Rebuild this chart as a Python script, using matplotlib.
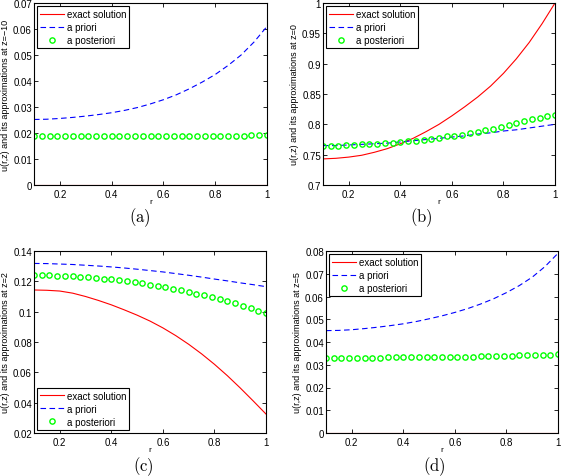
import matplotlib
matplotlib.use("Agg")
import matplotlib.pyplot as plt
from matplotlib.ticker import FormatStrFormatter

plt.rcParams['font.family'] = ['Liberation Sans', 'DejaVu Sans']
plt.rcParams['mathtext.fontset'] = 'cm'
plt.rcParams['lines.scale_dashes'] = False

# r grid for the continuous curves (step 0.05) and for the markers (step 0.03)
r_line = [0.10, 0.15, 0.20, 0.25, 0.30, 0.35, 0.40, 0.45, 0.50, 0.55,
          0.60, 0.65, 0.70, 0.75, 0.80, 0.85, 0.90, 0.95, 1.00]
r_mark = [0.10, 0.13, 0.16, 0.19, 0.22, 0.25, 0.28, 0.31, 0.34, 0.37,
          0.40, 0.43, 0.46, 0.49, 0.52, 0.55, 0.58, 0.61, 0.64, 0.67,
          0.70, 0.73, 0.76, 0.79, 0.82, 0.85, 0.88, 0.91, 0.94, 0.97, 1.00]

# (a) z = -10
exact_a = [0.0] * 19
priori_a = [0.0252, 0.0253, 0.0256, 0.0260, 0.0265, 0.0271, 0.0278, 0.0287,
            0.0298, 0.0312, 0.0328, 0.0347, 0.0370, 0.0396, 0.0425, 0.0460,
            0.0500, 0.0550, 0.0610]
post_a = [0.0187, 0.0187, 0.0187, 0.0187, 0.0187, 0.0187, 0.0187, 0.0187,
          0.0188, 0.0188, 0.0188, 0.0188, 0.0188, 0.0188, 0.0188, 0.0188,
          0.0188, 0.0189, 0.0189, 0.0189, 0.0189, 0.0189, 0.0189, 0.0190,
          0.0190, 0.0190, 0.0190, 0.0190, 0.0191, 0.0191, 0.0191]

# (b) z = 0
exact_b = [0.743, 0.744, 0.746, 0.749, 0.754, 0.760, 0.768, 0.777, 0.788,
           0.800, 0.814, 0.829, 0.845, 0.863, 0.884, 0.908, 0.935, 0.966,
           1.000]
priori_b = [0.765, 0.765, 0.766, 0.767, 0.768, 0.769, 0.771, 0.773, 0.775,
            0.777, 0.779, 0.781, 0.784, 0.786, 0.789, 0.791, 0.794, 0.797,
            0.800]
post_b = [0.765, 0.765, 0.765, 0.766, 0.766, 0.767, 0.767, 0.768, 0.769,
          0.770, 0.771, 0.772, 0.773, 0.775, 0.776, 0.778, 0.780, 0.781,
          0.783, 0.786, 0.788, 0.790, 0.793, 0.796, 0.799, 0.802, 0.805,
          0.808, 0.811, 0.814, 0.816]

# (c) z = 2
exact_c = [0.1143, 0.1141, 0.1136, 0.1122, 0.1100, 0.1074, 0.1045, 0.1012,
           0.0977, 0.0938, 0.0893, 0.0842, 0.0785, 0.0722, 0.0653, 0.0578,
           0.0497, 0.0412, 0.0325]
priori_c = [0.1318, 0.1317, 0.1314, 0.1311, 0.1306, 0.1301, 0.1295, 0.1288,
            0.1280, 0.1271, 0.1262, 0.1251, 0.1240, 0.1228, 0.1215, 0.1203,
            0.1190, 0.1178, 0.1165]
post_c = [0.1242, 0.1241, 0.1240, 0.1238, 0.1236, 0.1233, 0.1230, 0.1227,
          0.1223, 0.1218, 0.1213, 0.1207, 0.1200, 0.1193, 0.1186, 0.1178,
          0.1169, 0.1160, 0.1151, 0.1141, 0.1130, 0.1119, 0.1107, 0.1095,
          0.1082, 0.1068, 0.1054, 0.1039, 0.1023, 0.1006, 0.0990]

# (d) z = 5
exact_d = [0.0] * 19
priori_d = [0.0450, 0.0451, 0.0454, 0.0459, 0.0465, 0.0472, 0.0480, 0.0490,
            0.0502, 0.0515, 0.0530, 0.0547, 0.0567, 0.0590, 0.0617, 0.0648,
            0.0685, 0.0732, 0.0790]
post_d = [0.0330, 0.0330, 0.0330, 0.0330, 0.0331, 0.0331, 0.0331, 0.0331,
          0.0332, 0.0332, 0.0332, 0.0333, 0.0333, 0.0333, 0.0334, 0.0334,
          0.0335, 0.0335, 0.0336, 0.0336, 0.0337, 0.0338, 0.0338, 0.0339,
          0.0340, 0.0341, 0.0342, 0.0343, 0.0344, 0.0345, 0.0346]

W, H = 561, 477
fig = plt.figure(figsize=(W / 100, H / 100), dpi=100)

panels = [
    # left, top, width px ; data ; ylim ; yticks ; label ; legend loc ; caption pos
    (34, 4, 233, exact_a, priori_a, post_a, (0, 0.07),
     [0, 0.01, 0.02, 0.03, 0.04, 0.05, 0.06, 0.07], 'z=\u221210',
     'upper left', (140, 218), '(a)'),
    (323, 4, 232, exact_b, priori_b, post_b, (0.7, 1.0),
     [0.7, 0.75, 0.8, 0.85, 0.9, 0.95, 1.0], 'z=0',
     'upper left', (421, 218), '(b)'),
    (34, 252, 232, exact_c, priori_c, post_c, (0.02, 0.14),
     [0.02, 0.04, 0.06, 0.08, 0.1, 0.12, 0.14], 'z=2',
     'lower left', (143, 467), '(c)'),
    (326, 252, 232, exact_d, priori_d, post_d, (0, 0.08),
     [0, 0.01, 0.02, 0.03, 0.04, 0.05, 0.06, 0.07, 0.08], 'z=5',
     'upper left', (434, 467), '(d)'),
]

for (lx, ty, wpx, ex, pr, po, ylim, yt, zlab, loc, cap, captxt) in panels:
    ax = fig.add_axes([lx / W, 1 - (ty + 182) / H, wpx / W, 182 / H])
    ax.plot(r_line, ex, color='red', lw=0.8, label='exact solution')
    ax.plot(r_line, pr, color='blue', lw=0.8, ls=(0, (4, 2.5)), label='a priori')
    ax.plot(r_mark, po, ls='none', marker='o', ms=3.8, mew=1.0,
            mfc='none', mec=(0, 1, 0), label='a posteriori')
    ax.set_xlim(0.1, 1)
    ax.set_ylim(*ylim)
    ax.set_xticks([0.2, 0.4, 0.6, 0.8, 1.0])
    ax.set_yticks(yt)
    ax.xaxis.set_major_formatter(FormatStrFormatter('%g'))
    ax.yaxis.set_major_formatter(FormatStrFormatter('%g'))
    ax.tick_params(direction='in', top=True, right=True, length=3,
                   width=0.6, labelsize=7)
    ax.tick_params(axis='y', pad=1.5)
    ax.tick_params(axis='x', pad=3)
    for s in ax.spines.values():
        s.set_linewidth(0.8)
    ax.set_xlabel('r', fontsize=6, labelpad=-1)
    ax.set_ylabel('u(r,z) and its approximations at ' + zlab,
                  fontsize=6.5, labelpad=2.5)
    leg = ax.legend(loc=loc, fontsize=7, fancybox=False, framealpha=1,
                    edgecolor='black', handlelength=2.4, handletextpad=0.3,
                    borderpad=0.3, labelspacing=0.3, borderaxespad=0.35,
                    numpoints=1)
    leg.get_frame().set_linewidth(0.8)
    fig.text(cap[0] / W, 1 - cap[1] / H, r'$\mathrm{' + captxt + '}$',
             ha='center', va='center', fontsize=12)

fig.savefig('out.png', dpi=100)
